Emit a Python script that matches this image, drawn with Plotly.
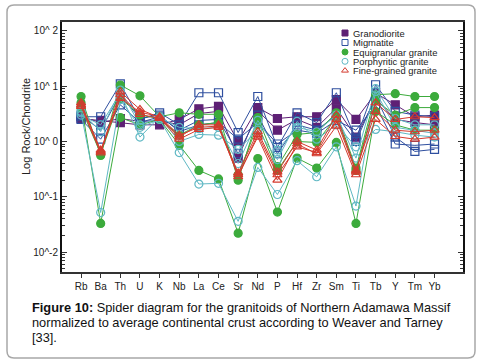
import plotly.graph_objects as go

elements = ["Rb", "Ba", "Th", "U", "K", "Nb", "La", "Ce", "Sr", "Nd", "P",
            "Hf", "Zr", "Sm", "Ti", "Tb", "Y", "Tm", "Yb"]

# Granodiorite
gd1 = [2.6, 2.4, 2.2, 2.0, 2.0, 2.5, 3.9, 4.3, 1.0, 4.1, 2.6, 2.8, 2.8, 5.7, 2.5, 7.5, 4.6, 2.8, 3.0]
gd2 = [2.8, 2.2, 2.6, 2.3, 2.4, 2.0, 3.2, 3.5, 0.5, 3.6, 1.6, 2.5, 1.8, 4.0, 1.2, 6.0, 2.5, 2.2, 2.0]
# Migmatite
mg1 = [2.8, 2.8, 11.0, 2.5, 3.3, 2.0, 7.6, 7.6, 1.45, 6.5, 0.78, 3.3, 2.2, 7.6, 1.1, 10.6, 3.5, 3.0, 2.8]
mg2 = [2.5, 1.1, 4.6, 2.2, 2.8, 1.6, 2.4, 2.5, 0.6, 3.0, 0.6, 2.0, 1.6, 3.0, 1.0, 6.5, 1.2, 0.66, 0.72]
mg3 = [3.0, 1.6, 7.0, 2.6, 3.0, 1.5, 2.0, 2.2, 1.1, 2.2, 0.9, 1.6, 1.4, 2.4, 1.6, 4.5, 0.9, 0.85, 0.9]
# Equigranular granite
eq1 = [6.5, 0.56, 10.5, 6.7, 2.8, 3.3, 3.1, 3.1, 0.2, 2.7, 0.35, 1.34, 1.45, 3.3, 0.33, 7.0, 7.3, 6.5, 6.5]
eq2 = [5.0, 0.033, 2.7, 2.0, 2.5, 0.85, 0.30, 0.21, 0.022, 0.49, 0.053, 0.5, 0.33, 0.96, 0.033, 3.5, 2.0, 1.6, 1.6]
eq3 = [4.0, 0.6, 6.0, 3.0, 2.6, 1.3, 2.0, 2.2, 0.25, 2.0, 0.3, 1.0, 0.96, 2.8, 0.3, 5.5, 3.0, 4.1, 4.1]
# Porphyritic granite
pp1 = [3.3, 0.052, 5.7, 1.8, 2.5, 0.63, 0.17, 0.175, 0.036, 0.34, 0.11, 0.45, 0.23, 0.8, 0.068, 8.0, 1.8, 1.6, 1.4]
pp2 = [3.0, 2.0, 7.5, 1.2, 2.8, 1.0, 1.34, 1.3, 0.72, 1.6, 0.47, 2.3, 1.1, 2.0, 0.8, 1.65, 1.5, 1.3, 1.2]
pp3 = [3.5, 1.5, 8.5, 2.0, 2.7, 1.8, 1.7, 1.8, 0.4, 2.4, 0.7, 1.8, 1.5, 3.0, 0.5, 9.0, 2.6, 2.0, 2.0]
# Fine-grained granite
fg1 = [5.0, 0.66, 7.9, 3.8, 2.7, 1.2, 2.0, 2.0, 0.23, 1.33, 0.25, 0.8, 0.63, 2.5, 0.28, 5.0, 2.5, 2.8, 2.7]
fg2 = [4.3, 0.62, 7.0, 3.1, 2.6, 1.1, 1.65, 1.8, 0.25, 1.2, 0.2, 0.9, 0.6, 1.9, 0.25, 2.5, 1.23, 1.1, 1.2]
fg3 = [4.6, 0.7, 6.0, 3.4, 2.8, 1.3, 1.8, 1.9, 0.27, 1.5, 0.28, 1.0, 0.7, 3.0, 0.3, 3.5, 1.6, 1.5, 1.6]

groups = [
    ("Granodiorite", [gd1, gd2], "#5e2075", "square", 8),
    ("Migmatite", [mg1, mg2, mg3], "#2f4f9f", "square-open", 8),
    ("Equigranular granite", [eq1, eq2, eq3], "#3cab3c", "circle", 8),
    ("Porphyritic granite", [pp1, pp2, pp3], "#5fb8c4", "circle-open", 8),
    ("Fine-grained granite", [fg1, fg2, fg3], "#d43a2e", "triangle-up-open", 8),
]

ytickvals = [0.01, 0.1, 1, 10, 100]
yticktext = ["10^-2", "10^-1", "10^ 0", "10^ 1", "10^ 2"]

font_fam = "Arial, Liberation Sans, sans-serif"
W, H = 480, 363
ml, mr, mt, mb = 62, 17, 22, 91
pw, ph = W - ml - mr, H - mt - mb

def px(x):
    return (x - ml) / pw

def py(y):
    return (H - mb - y) / ph

xpos = list(range(len(elements)))
fig = go.Figure()
for name, series, color, sym, size in groups:
    for s in series:
        fig.add_trace(go.Scatter(
            x=xpos, y=s, mode="lines+markers",
            line=dict(color=color, width=1),
            marker=dict(symbol=sym, size=size, color=color,
                        line=dict(color=color, width=1.2)),
            showlegend=False, hoverinfo="skip"))

# manual legend
leg_y = [py(33), py(42.5), py(52), py(61.3), py(70.6)]
for (name, series, color, sym, size), yy in zip(groups, leg_y):
    fig.add_trace(go.Scatter(
        x=[px(345)], y=[yy], mode="markers", xaxis="x2", yaxis="y2",
        marker=dict(symbol=sym, size=6, color=color, line=dict(color=color, width=1)),
        showlegend=False, hoverinfo="skip"))
    fig.add_annotation(x=px(351), y=yy, xref="paper", yref="paper", text=name,
                       showarrow=False, xanchor="left", yanchor="middle",
                       font=dict(size=9.4, color="#222"))

# rounded outer box
x0, x1, y0, y1, r = px(7), px(475), py(5), py(358), 7
rx, ry = r / pw, r / ph
path = (f"M {x0+rx} {y0} L {x1-rx} {y0} Q {x1} {y0} {x1} {y0-ry} "
        f"L {x1} {y1+ry} Q {x1} {y1} {x1-rx} {y1} L {x0+rx} {y1} "
        f"Q {x0} {y1} {x0} {y1+ry} L {x0} {y0-ry} Q {x0} {y0} {x0+rx} {y0} Z")
fig.add_shape(type="path", path=path, xref="paper", yref="paper",
              line=dict(color="#a8a8a8", width=1.5), layer="below")

# y title
fig.add_annotation(x=px(18), y=py(127), xref="paper", yref="paper",
                   text="Log Rock/Chondrite", textangle=-90, showarrow=False,
                   font=dict(size=11, color="#222"))

cap = ["<b>Figure 10:</b> Spider diagram for the granitoids of Northern Adamawa Massif",
       "normalized to average continental crust according to Weaver and Tarney",
       "[33]."]
for i, line in enumerate(cap):
    fig.add_annotation(x=px(30), y=py(307 + 15 * i), xref="paper", yref="paper",
                       text=line, showarrow=False, xanchor="left", yanchor="middle",
                       font=dict(size=12.8, color="#111"))

fig.update_layout(
    width=W, height=H,
    margin=dict(l=ml, r=mr, t=mt, b=mb),
    paper_bgcolor="white", plot_bgcolor="white",
    font=dict(family=font_fam, size=10, color="#222"),
    xaxis=dict(range=[-0.97, 19.45], tickvals=xpos, ticktext=elements,
               ticks="outside", ticklen=4, tickcolor="#333", showgrid=False,
               zeroline=False, showline=True, linecolor="#333", linewidth=2,
               mirror=True, tickfont=dict(size=10)),
    yaxis=dict(type="log", range=[-2.36, 2.16], tickvals=ytickvals, ticktext=yticktext,
               ticks="inside", ticklen=5, tickcolor="#333", showgrid=False,
               zeroline=False, showline=True, linecolor="#111", linewidth=2,
               mirror="allticks", tickfont=dict(size=10),
               minor=dict(ticks="inside", ticklen=3, tickcolor="#333",
                          dtick="D1", showgrid=False)),
    xaxis2=dict(range=[0, 1], overlaying="x", visible=False),
    yaxis2=dict(range=[0, 1], overlaying="y", visible=False),
)

fig.write_html("out.html", config={"displayModeBar": False},
               post_script="document.body.style.margin='0';")
